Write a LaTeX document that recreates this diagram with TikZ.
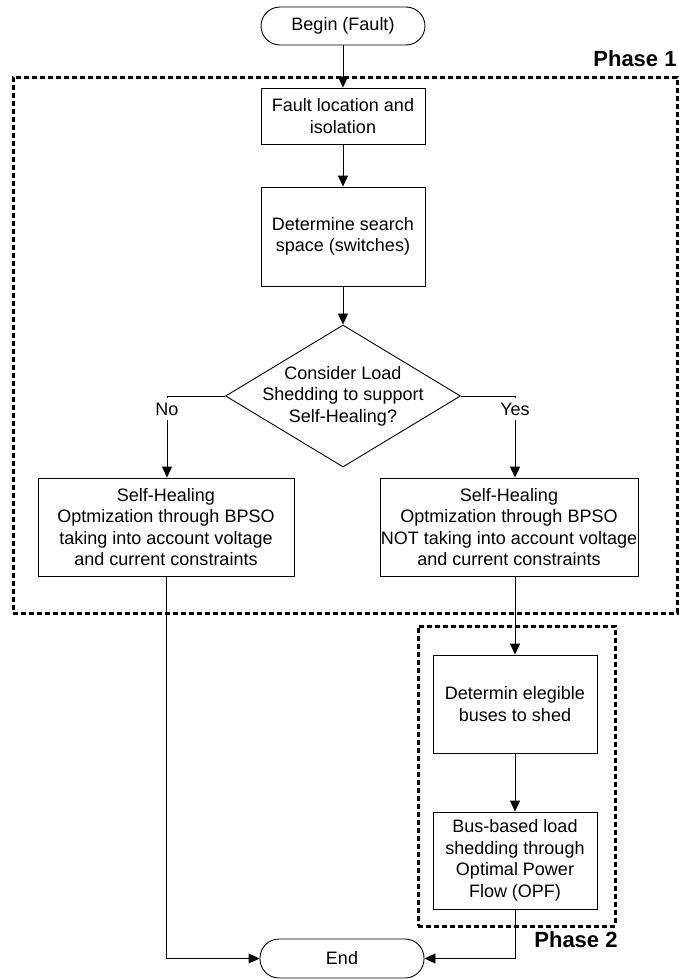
\documentclass[tikz,border=0pt]{standalone}
\usepackage{fontspec}
\setmainfont{Liberation Sans}
\usetikzlibrary{shapes.geometric,arrows.meta,positioning}

\begin{document}
\begin{tikzpicture}[
  x=1pt, y=-1pt,
  >={Triangle[length=11pt,width=10pt]}, line width=0.9pt,
  every node/.style={font=\fontsize{18}{21.5}\selectfont},
  block/.style={rectangle, draw, align=center, inner sep=0pt},
  term/.style={rectangle, draw, rounded corners=19pt, align=center,
      inner sep=0pt, minimum width=164pt, minimum height=38pt},
  decision/.style={diamond, draw, inner sep=0pt,
      minimum width=235pt, minimum height=142pt},
  lbl/.style={fill=white, inner sep=0pt, minimum height=22pt},
  phase/.style={rectangle, draw, line width=2.6pt,
      dash pattern=on 5pt off 3pt, inner sep=0pt},
  phaselbl/.style={font=\fontsize{22}{24}\selectfont\bfseries, inner sep=0pt}
]
\useasboundingbox (0,0) rectangle (678,979);

% phase frames
\node[phase, anchor=north west, minimum width=664pt, minimum height=536pt] (phaseA) at (12,76) {};
\node[phase, anchor=north west, minimum width=197pt, minimum height=300pt] (phaseB) at (417,625) {};
\node[phaselbl, anchor=base east] (phaseAlbl) at (677,67) {Phase 1};
\node[phaselbl, anchor=base east] (phaseBlbl) at (618,947) {Phase 2};

% phase 1
\node[term] (begin) at (343,26) {Begin (Fault)};
\node[block, minimum width=164pt, minimum height=56pt] (locate) at (343,116) {Fault location and\\isolation};
\node[block, minimum width=164pt, minimum height=99pt] (space) at (343,236.5) {Determine search\\space (switches)};
\node[decision] (shed) at (343,396) {};
\node[align=center] (shedtext) at (shed) {Consider Load\\Shedding to support\\Self-Healing?};
\node[lbl] (no) at (167,409) {No};
\node[lbl] (yes) at (515,409) {Yes};
\node[block, minimum width=256pt, minimum height=98pt] (bpsoA) at (166,527)
  {Self-Healing\\Optmization through BPSO\\taking into account voltage\\and current constraints};
\node[block, minimum width=258pt, minimum height=98pt] (bpsoB) at (509,527)
  {Self-Healing\\Optmization through BPSO\\NOT taking into account voltage\\and current constraints};

% phase 2
\node[block, minimum width=164pt, minimum height=98pt] (elig) at (515,704) {Determin elegible\\buses to shed};
\node[block, minimum width=164pt, minimum height=97pt] (opf) at (515,860.5)
  {Bus-based load\\shedding through\\Optimal Power\\Flow (OPF)};
\node[term, minimum height=39pt] (end) at (342,958.5) {End};

\draw[->] (begin) -- (locate);
\draw[->] (locate) -- (space);
\draw[->] (space) -- (shed);
\draw (shed.west) -| (no.north);
\draw[->] (no) -- (no |- bpsoA.north);
\draw (shed.east) -| (yes.north);
\draw[->] (yes) -- (yes |- bpsoB.north);
\draw[->] (bpsoB.south -| elig) -- (elig);
\draw[->] (elig) -- (opf);
\draw[->] (bpsoA) |- (end);
\draw[->] (opf) |- (end);
\end{tikzpicture}
\end{document}
